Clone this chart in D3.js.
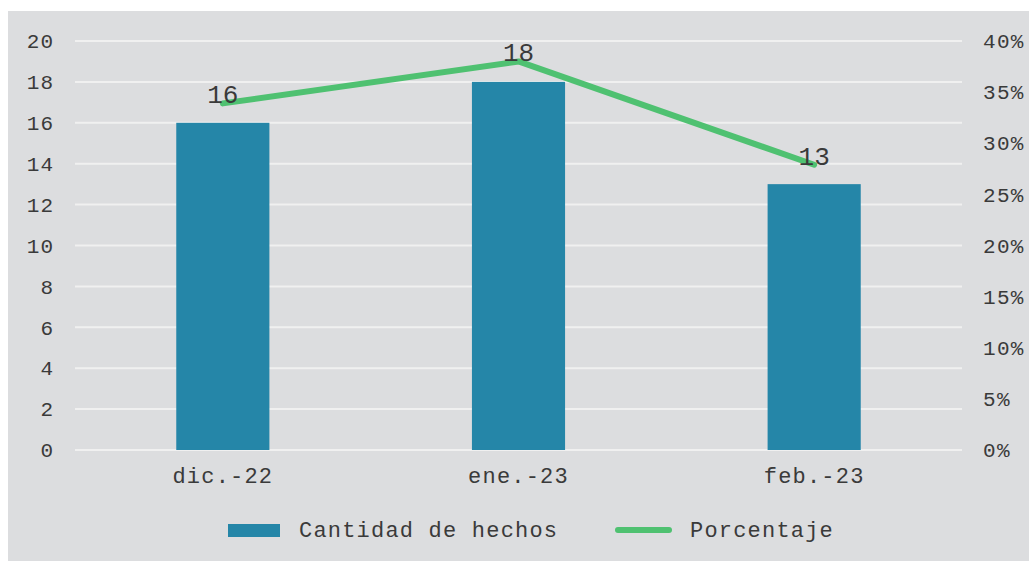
<!DOCTYPE html>
<html>
<head>
<meta charset="utf-8">
<script src="https://cdn.jsdelivr.net/npm/d3@7"></script>
<style>
  body { margin: 0; background: #fff; }
  text { font-family: "Liberation Mono", "Courier New", monospace; fill: #3a3a3a; }
</style>
</head>
<body>
<div id="chart"></div>
<script>
const months = ["dic.-22", "ene.-23", "feb.-23"];
const hechos = [16, 18, 13];
const porcentaje = [0.339, 0.38, 0.279];
const leftTicks = [0, 2, 4, 6, 8, 10, 12, 14, 16, 18, 20];
const rightTicks = [0, 0.05, 0.1, 0.15, 0.2, 0.25, 0.3, 0.35, 0.4];

const W = 1029, H = 561;
const margin = {top: 41, right: 67, bottom: 111, left: 75};
const width = W - margin.left - margin.right,
    height = H - margin.top - margin.bottom;

const data = months.map((m, i) => ({month: m, n: hechos[i], p: porcentaje[i]}));

const svg = d3.select("#chart").append("svg")
    .attr("width", W)
    .attr("height", H);

svg.append("rect")
    .attr("x", 8).attr("y", 11)
    .attr("width", W - 8).attr("height", H - 11)
    .attr("fill", "#dcdddf");

const g = svg.append("g")
    .attr("transform", "translate(" + margin.left + "," + margin.top + ")");

const x = d3.scaleBand().domain(months).range([0, width]).paddingInner(0.685).paddingOuter(0.3425);
const y = d3.scaleLinear().domain([0, 20]).range([height, 0]);
const y2 = d3.scaleLinear().domain([0, 0.4]).range([height, 0]);

// gridlines
g.selectAll(".grid")
    .data(leftTicks)
    .join("line")
    .attr("x1", 0).attr("x2", width)
    .attr("y1", d => y(d)).attr("y2", d => y(d))
    .attr("stroke", "#f0f0f0")
    .attr("stroke-width", 2);

const yAxis = d3.axisLeft(y).tickValues(leftTicks).tickSize(0).tickPadding(21);
g.append("g").call(yAxis)
    .call(a => a.select(".domain").remove())
    .selectAll("text")
    .style("font-size", "21px")
    .attr("letter-spacing", "1px");

const yAxis2 = d3.axisRight(y2).tickValues(rightTicks).tickSize(0).tickPadding(21)
    .tickFormat(d3.format(".0%"));
g.append("g").attr("transform", "translate(" + width + ",0)").call(yAxis2)
    .call(a => a.select(".domain").remove())
    .selectAll("text")
    .style("font-size", "21px")
    .attr("letter-spacing", "1.3px");

const xAxis = d3.axisBottom(x).tickSize(0).tickPadding(17);
g.append("g").attr("transform", "translate(0," + height + ")").call(xAxis)
    .call(a => a.select(".domain").remove())
    .selectAll("text")
    .style("font-size", "22px")
    .attr("letter-spacing", "1.2px");

// bars
g.selectAll(".bar")
    .data(data)
    .join("rect")
    .attr("x", d => x(d.month))
    .attr("y", d => y(d.n))
    .attr("width", x.bandwidth())
    .attr("height", d => y(0) - y(d.n))
    .attr("fill", "#2586a8");

// percentage line
const line = d3.line()
    .x(d => x(d.month) + x.bandwidth() / 2)
    .y(d => y2(d.p));

g.append("path")
    .attr("d", line(data))
    .attr("fill", "none")
    .attr("stroke", "#4fc171")
    .attr("stroke-width", 6)
    .attr("stroke-linecap", "round")
    .attr("stroke-linejoin", "round");

// data labels
g.selectAll(".lbl")
    .data(data)
    .join("text")
    .attr("x", d => x(d.month) + x.bandwidth() / 2)
    .attr("y", d => y2(d.p))
    .attr("text-anchor", "middle")
    .style("font-size", "26px")
    .text(d => d.n);

// legend
const leg = svg.append("g");
leg.append("rect")
    .attr("x", 228).attr("y", 524)
    .attr("width", 52).attr("height", 13)
    .attr("fill", "#2586a8");
leg.append("text")
    .attr("x", 299).attr("y", 537)
    .style("font-size", "22px")
    .attr("letter-spacing", "1.2px")
    .text("Cantidad de hechos");
leg.append("line")
    .attr("x1", 618).attr("x2", 669)
    .attr("y1", 530).attr("y2", 530)
    .attr("stroke", "#4fc171")
    .attr("stroke-width", 6)
    .attr("stroke-linecap", "round");
leg.append("text")
    .attr("x", 690).attr("y", 537)
    .style("font-size", "22px")
    .attr("letter-spacing", "1.2px")
    .text("Porcentaje");
</script>
</body>
</html>
